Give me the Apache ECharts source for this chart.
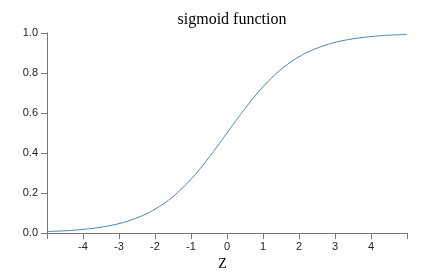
<!DOCTYPE html>
<html>
<head>
<meta charset="utf-8">
<script src="https://cdn.jsdelivr.net/npm/echarts@6/dist/echarts.min.js"></script>
<style>html,body{margin:0;padding:0;background:#fff}#c{width:448px;height:276px}</style>
</head>
<body>
<div id="c"></div>
<script>
const zValues = [-5,-4.75,-4.5,-4.25,-4,-3.75,-3.5,-3.25,-3,-2.75,-2.5,-2.25,-2,-1.75,-1.5,-1.25,-1,-0.75,-0.5,-0.25,0,0.25,0.5,0.75,1,1.25,1.5,1.75,2,2.25,2.5,2.75,3,3.25,3.5,3.75,4,4.25,4.5,4.75,5];
const sigmoidValues = [0.007,0.009,0.011,0.014,0.018,0.023,0.029,0.037,0.047,0.060,0.076,0.095,0.119,0.148,0.182,0.223,0.269,0.321,0.378,0.438,0.5,0.562,0.622,0.679,0.731,0.777,0.818,0.852,0.881,0.905,0.924,0.940,0.953,0.963,0.971,0.977,0.982,0.986,0.989,0.991,0.993];
const xTickLabels = ['-4','-3','-2','-1','0','1','2','3','4'];
const yTickLabels = ['0.0','0.2','0.4','0.6','0.8','1.0'];
const titleText = 'sigmoid function';
const xName = 'Z';

const chart = echarts.init(document.getElementById('c'), null, {renderer: 'canvas'});
const axisColor = '#777';
chart.setOption({
  animation: false,
  title: {
    text: titleText, left: 227, top: 7, textAlign: 'center',
    textStyle: {fontFamily: 'Liberation Serif', fontSize: 16, fontWeight: 'normal', color: '#000'}
  },
  grid: {left: 47, right: 41, top: 33, bottom: 43, containLabel: false},
  xAxis: {
    type: 'value', min: -5, max: 5, interval: 1,
    name: xName, nameLocation: 'middle', nameGap: 22,
    nameTextStyle: {fontFamily: 'Liberation Serif', fontSize: 14, color: '#000', padding: [0, 9, 0, 0]},
    axisLine: {show: true, onZero: false, lineStyle: {color: axisColor, width: 1}},
    axisTick: {show: true, length: 6, lineStyle: {color: axisColor}},
    splitLine: {show: false},
    axisLabel: {
      fontFamily: 'Liberation Sans', fontSize: 11, color: '#222', margin: 8,
      formatter: v => { const s = String(v); return xTickLabels.includes(s) ? s : ''; }
    }
  },
  yAxis: {
    type: 'value', min: 0, max: 1, interval: 0.2,
    axisLine: {show: true, onZero: false, lineStyle: {color: axisColor, width: 1}},
    axisTick: {show: true, length: 6, lineStyle: {color: axisColor}},
    splitLine: {show: false},
    axisLabel: {
      fontFamily: 'Liberation Sans', fontSize: 11, color: '#222', margin: 9,
      formatter: v => yTickLabels[Math.round(v / 0.2)]
    }
  },
  series: [{
    type: 'line', data: zValues.map((z, i) => [z, sigmoidValues[i]]),
    showSymbol: false, smooth: true,
    lineStyle: {color: '#4682b4', width: 1}
  }]
});
</script>
</body>
</html>
